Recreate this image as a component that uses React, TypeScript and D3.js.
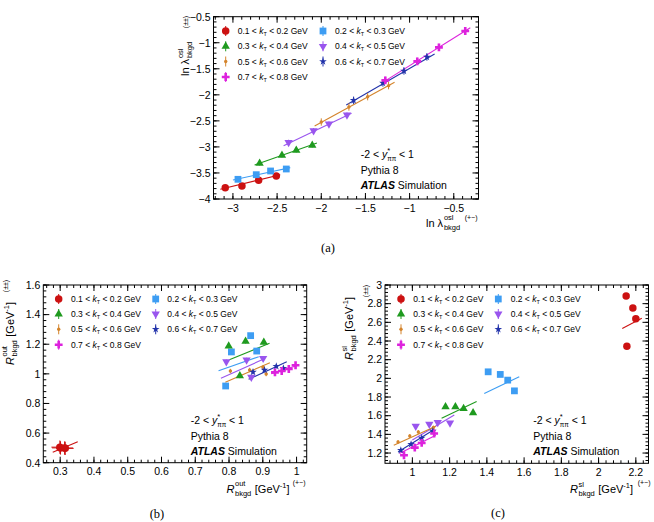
import React from 'react';
import * as d3 from 'd3';

const FONT = '"Liberation Sans", Arial, Helvetica, sans-serif';
const SERIF = '"Liberation Serif", "Times New Roman", serif';

// kT bins, their colours and marker styles
const KT_LO = [0.1, 0.2, 0.3, 0.4, 0.5, 0.6, 0.7];
const KT_HI = [0.2, 0.3, 0.4, 0.5, 0.6, 0.7, 0.8];
const BIN_COLORS = ['#cc1111', '#3d9df3', '#1f9a1f', '#9955ee', '#d4842c', '#2233aa', '#dd22dd'];
const BIN_MARKERS = ['circle', 'square', 'triangle', 'triangleDown', 'dot', 'star', 'cross'];

// (a) ln lambda_osl: opposite-sign (x) vs like-sign (y)
const LAMBDA_PM = [
  [-3.087, -2.898, -2.709, -2.509],
  [-2.943, -2.736, -2.574, -2.396],
  [-2.698, -2.445, -2.283, -2.102],
  [-2.370, -2.087, -1.913, -1.709],
  [-2.0, -1.687, -1.475, -1.238],
  [-1.634, -1.302, -1.064, -0.804],
  [-1.275, -0.913, -0.668, -0.370],
];
const LAMBDA_PP = [
  [-3.782, -3.750, -3.641, -3.558],
  [-3.622, -3.533, -3.462, -3.424],
  [-3.315, -3.162, -3.066, -2.970],
  [-2.912, -2.688, -2.560, -2.387],
  [-2.522, -2.234, -2.036, -1.824],
  [-2.106, -1.773, -1.543, -1.274],
  [-1.722, -1.357, -1.089, -0.775],
];
const LAMBDA_FIT = [
  [-3.143, -3.814, -2.464, -3.533],
  [-3.0, -3.635, -2.351, -3.398],
  [-2.755, -3.347, -2.049, -2.925],
  [-2.426, -2.976, -1.657, -2.355],
  [-2.075, -2.598, -1.170, -1.760],
  [-1.717, -2.195, -0.717, -1.217],
  [-1.321, -1.780, -0.313, -0.711],
];
const LAMBDA_ERR = [0.03, 0.03, 0.04, 0.05, 0.07, 0.07, 0.07];

// (b) R_out
const ROUT_PM = [
  [0.299, 0.301, 0.313, 0.315],
  [0.790, 0.807, 0.864, 0.882],
  [0.799, 0.832, 0.849, 0.903],
  [0.792, 0.852, 0.866, 0.901],
  [0.804, 0.861, 0.901, 0.910],
  [0.871, 0.905, 0.940, 0.961],
  [0.936, 0.956, 0.977, 0.997],
];
const ROUT_PP = [
  [0.505, 0.500, 0.499, 0.497],
  [0.918, 1.148, 1.258, 1.154],
  [1.188, 0.986, 1.220, 1.213],
  [1.082, 1.094, 0.977, 1.105],
  [1.019, 1.026, 1.045, 0.999],
  [1.013, 1.026, 1.051, 1.038],
  [1.010, 1.019, 1.033, 1.058],
];
const ROUT_FIT = [
  [0.278, 0.470, 0.352, 0.542],
  [0.769, 1.021, 0.888, 1.116],
  [0.801, 1.095, 0.920, 1.206],
  [0.776, 0.970, 0.901, 1.098],
  [0.789, 0.943, 0.921, 1.075],
  [0.858, 0.963, 0.971, 1.082],
  [0.925, 1.000, 1.000, 1.055],
];
const ROUT_XERR = [0.025, 0.004, 0.004, 0.004, 0.004, 0.004, 0.004];
const ROUT_YERR = [0.045, 0.015, 0.015, 0.015, 0.015, 0.015, 0.015];

// (c) R_sl
const RSL_PM = [
  [2.148, 2.184, 2.200, 2.152],
  [1.407, 1.472, 1.512, 1.548],
  [1.178, 1.231, 1.275, 1.326],
  [1.018, 1.091, 1.136, 1.202],
  [0.923, 0.986, 1.032, 1.113],
  [0.938, 0.993, 1.050, 1.110],
  [0.955, 1.013, 1.050, 1.117],
];
const RSL_PP = [
  [2.882, 2.753, 2.638, 2.345],
  [2.070, 2.042, 1.981, 1.866],
  [1.694, 1.694, 1.677, 1.630],
  [1.487, 1.509, 1.527, 1.522],
  [1.319, 1.383, 1.426, 1.473],
  [1.230, 1.294, 1.362, 1.437],
  [1.176, 1.258, 1.308, 1.409],
];
const RSL_FIT = [
  [2.127, 2.535, 2.232, 2.643],
  [1.386, 1.838, 1.574, 2.017],
  [1.157, 1.573, 1.345, 1.751],
  [1.0, 1.340, 1.225, 1.608],
  [0.90, 1.283, 1.126, 1.487],
  [0.923, 1.211, 1.117, 1.452],
  [0.93, 1.194, 1.126, 1.390],
];
const RSL_ERR = [0.01, 0.02, 0.02, 0.02, 0.02, 0.02, 0.02];

// Approximate Arial advance widths (em) for laying out composed titles
const CW: Record<string, number> = {
  R: 0.722, l: 0.222, n: 0.556, ' ': 0.278, 'λ': 0.52, o: 0.556, u: 0.556, t: 0.278,
  s: 0.5, b: 0.556, k: 0.5, g: 0.556, d: 0.556, '[': 0.278, G: 0.778, e: 0.556,
  V: 0.667, '-': 0.333, '−': 0.584, '1': 0.556, ']': 0.278,
};
const textW = (s: string, size: number) =>
  s.split('').reduce((a, c) => a + (CW[c] ?? 0.55), 0) * size;

const fmt = (v: number) => {
  const r = Math.round(v * 100) / 100;
  return (r < 0 ? '\u2212' : '') + String(Math.abs(r));
};

const stepTicks = (lo: number, hi: number, step: number) => {
  const out: number[] = [];
  const a = Math.ceil(lo / step - 1e-6);
  const b = Math.floor(hi / step + 1e-6);
  for (let i = a; i <= b; i++) out.push(+(i * step).toFixed(6));
  return out;
};

const SYM: Record<string, string> = {
  circle: d3.symbol(d3.symbolCircle, 44)() as string,
  square: d3.symbol(d3.symbolSquare, 46)() as string,
  triangle: d3.symbol(d3.symbolTriangle, 30)() as string,
  triangleDown: d3.symbol(d3.symbolTriangle, 30)() as string,
  dot: d3.symbol(d3.symbolCircle, 9)() as string,
  star: d3.symbol(d3.symbolStar, 18)() as string,
  cross: d3.symbol(d3.symbolCross, 34)() as string,
};

function Marker({ kind, color, x, y }: { kind: string; color: string; x: number; y: number }) {
  const rot = kind === 'triangleDown' ? ' rotate(180)' : '';
  return <path d={SYM[kind]} fill={color} transform={`translate(${x},${y})${rot}`} />;
}

type TitleSpec = { base: string; italic: boolean; sup: string; sub: string; unit: boolean };

function Title({ x, y, rotate, spec }: { x: number; y: number; rotate: boolean; spec: TitleSpec }) {
  const F = 11;
  const f = 7.5;
  const bw = textW(spec.base, F) + 0.6;
  const sw = Math.max(textW(spec.sup, f), textW(spec.sub, f));
  const ux = bw + sw + 3.5;
  const gw = textW('[GeV', F);
  const mw = textW('-1', f);
  return (
    <g transform={`translate(${x},${y})${rotate ? ' rotate(-90)' : ''}`} fontSize={F}>
      <text x={0} y={0} fontStyle={spec.italic ? 'italic' : 'normal'} style={{ whiteSpace: 'pre' }}>{spec.base}</text>
      <text x={bw} y={-6.5} fontSize={f}>{spec.sup}</text>
      <text x={bw} y={3} fontSize={f}>{spec.sub}</text>
      {spec.unit && (
        <g>
          <text x={ux} y={0}>[GeV</text>
          <text x={ux + gw} y={-5} fontSize={f}>-1</text>
          <text x={ux + gw + mw} y={0}>]</text>
        </g>
      )}
    </g>
  );
}

function LegendLabel({ x, y, i }: { x: number; y: number; i: number }) {
  return (
    <text x={x} y={y} fontSize={8.5} style={{ whiteSpace: 'pre' }}>
      <tspan>{`${KT_LO[i]} < `}</tspan>
      <tspan fontStyle="italic">k</tspan>
      <tspan fontSize={5.5} dy={2}>T</tspan>
      <tspan dy={-2}>{` < ${KT_HI[i]} GeV`}</tspan>
    </text>
  );
}

function InfoBlock({ x, y }: { x: number; y: number }) {
  return (
    <g fontSize={10.5}>
      <text x={x} y={y} style={{ whiteSpace: 'pre' }}>
        <tspan>{'-2 < '}</tspan>
        <tspan fontStyle="italic">y</tspan>
        <tspan fontSize={7.5} dy={-5}>*</tspan>
        <tspan fontSize={6.5} dx={-3} dy={8}>ππ</tspan>
        <tspan dy={-3}>{' < 1'}</tspan>
      </text>
      <text x={x} y={y + 15.5}>Pythia 8</text>
      <text x={x} y={y + 31}>
        <tspan fontWeight="bold" fontStyle="italic">ATLAS</tspan>
        <tspan> Simulation</tspan>
      </text>
    </g>
  );
}

type AxisCfg = { domain: [number, number]; range: [number, number]; major: number; minor: number };

type PanelCfg = {
  id: string;
  x: AxisCfg;
  y: AxisCfg;
  xs: number[][];
  ys: number[][];
  fits: number[][];
  xErr: number[];
  yErr: number[];
  legend: { rows: number[]; m1: number; t1: number; m2: number; t2: number };
  info: [number, number];
  xTitle: { x: number; y: number; spec: TitleSpec; pmX: number; pmY: number };
  yTitle: { x: number; y: number; spec: TitleSpec; pmX: number; pmY: number };
  caption: [number, number];
};

const LEG_ROWS_B = [299, 314, 329.3, 344.7];

const PANELS: PanelCfg[] = [
  {
    id: '(a)',
    x: { domain: [-3.22, -0.22], range: [213.5, 478.5], major: 0.5, minor: 0.1 },
    y: { domain: [-4, -0.5], range: [199, 16.7], major: 0.5, minor: 0.1 },
    xs: LAMBDA_PM, ys: LAMBDA_PP, fits: LAMBDA_FIT,
    xErr: LAMBDA_ERR.map(() => 0), yErr: LAMBDA_ERR,
    legend: { rows: [31, 46.3, 61.5, 77], m1: 225.7, t1: 237.7, m2: 323, t2: 335 },
    info: [360.7, 158],
    xTitle: { x: 426, y: 226.5, spec: { base: 'ln λ', italic: false, sup: 'osl', sub: 'bkgd', unit: false }, pmX: 477.5, pmY: 220 },
    yTitle: { x: 189, y: 76, spec: { base: 'ln λ', italic: false, sup: 'osl', sub: 'bkgd', unit: false }, pmX: 188, pmY: 22 },
    caption: [328, 252],
  },
  {
    id: '(b)',
    x: { domain: [0.25, 1.03], range: [43.3, 306.7], major: 0.1, minor: 0.02 },
    y: { domain: [0.4, 1.6], range: [462.7, 285], major: 0.2, minor: 0.04 },
    xs: ROUT_PM, ys: ROUT_PP, fits: ROUT_FIT,
    xErr: ROUT_XERR, yErr: ROUT_YERR,
    legend: { rows: LEG_ROWS_B, m1: 58.7, t1: 71, m2: 155.7, t2: 167.3 },
    info: [190.7, 424],
    xTitle: { x: 226.5, y: 492.5, spec: { base: 'R', italic: true, sup: 'out', sub: 'bkgd', unit: true }, pmX: 305.5, pmY: 484.5 },
    yTitle: { x: 13.5, y: 365, spec: { base: 'R', italic: true, sup: 'out', sub: 'bkgd', unit: true }, pmX: 8, pmY: 286 },
    caption: [157, 518],
  },
  {
    id: '(c)',
    x: { domain: [0.853, 2.268], range: [385, 648.5], major: 0.2, minor: 0.04 },
    y: { domain: [1.09, 3], range: [463.3, 285], major: 0.2, minor: 0.04 },
    xs: RSL_PM, ys: RSL_PP, fits: RSL_FIT,
    xErr: RSL_ERR.map(() => 0), yErr: RSL_ERR,
    legend: { rows: LEG_ROWS_B, m1: 401, t1: 413.3, m2: 498.3, t2: 510.7 },
    info: [533.3, 424],
    xTitle: { x: 570, y: 493, spec: { base: 'R', italic: true, sup: 'sl', sub: 'bkgd', unit: true }, pmX: 650.5, pmY: 485 },
    yTitle: { x: 353, y: 360, spec: { base: 'R', italic: true, sup: 'sl', sub: 'bkgd', unit: true }, pmX: 367.5, pmY: 291 },
    caption: [498, 517],
  },
];

function Panel({ p }: { p: PanelCfg }) {
  const xs = d3.scaleLinear().domain(p.x.domain).range(p.x.range);
  const ys = d3.scaleLinear().domain(p.y.domain).range(p.y.range);
  const [x0, x1] = p.x.range;
  const [y0, y1] = p.y.range; // y0 bottom, y1 top
  const xMaj = stepTicks(p.x.domain[0], p.x.domain[1], p.x.major);
  const xMin = stepTicks(p.x.domain[0], p.x.domain[1], p.x.minor);
  const yMaj = stepTicks(p.y.domain[0], p.y.domain[1], p.y.major);
  const yMin = stepTicks(p.y.domain[0], p.y.domain[1], p.y.minor);
  const ML = 6;
  const MN = 3;
  const clipId = `clip${p.id.replace(/[()]/g, '')}`;

  return (
    <g>
      <defs>
        <clipPath id={clipId}>
          <rect x={x0} y={y1} width={x1 - x0} height={y0 - y1} />
        </clipPath>
      </defs>

      {/* ticks on all four sides */}
      <g stroke="#000" strokeWidth={1}>
        {xMin.map((v) => (
          <g key={`xm${v}`}>
            <line x1={xs(v)} x2={xs(v)} y1={y0} y2={y0 - MN} />
            <line x1={xs(v)} x2={xs(v)} y1={y1} y2={y1 + MN} />
          </g>
        ))}
        {xMaj.map((v) => (
          <g key={`xM${v}`}>
            <line x1={xs(v)} x2={xs(v)} y1={y0} y2={y0 - ML} />
            <line x1={xs(v)} x2={xs(v)} y1={y1} y2={y1 + ML} />
          </g>
        ))}
        {yMin.map((v) => (
          <g key={`ym${v}`}>
            <line x1={x0} x2={x0 + MN} y1={ys(v)} y2={ys(v)} />
            <line x1={x1} x2={x1 - MN} y1={ys(v)} y2={ys(v)} />
          </g>
        ))}
        {yMaj.map((v) => (
          <g key={`yM${v}`}>
            <line x1={x0} x2={x0 + ML} y1={ys(v)} y2={ys(v)} />
            <line x1={x1} x2={x1 - ML} y1={ys(v)} y2={ys(v)} />
          </g>
        ))}
      </g>
      <rect x={x0} y={y1} width={x1 - x0} height={y0 - y1} fill="none" stroke="#000" strokeWidth={1} />

      {/* tick labels */}
      <g fontSize={10.5} fill="#000">
        {xMaj.map((v) => (
          <text key={`xl${v}`} x={xs(v)} y={y0 + 12.5} textAnchor="middle">{fmt(v)}</text>
        ))}
        {yMaj.map((v) => (
          <text key={`yl${v}`} x={x0 - 3} y={ys(v) + 3.8} textAnchor="end">{fmt(v)}</text>
        ))}
      </g>

      {/* fit lines */}
      <g clipPath={`url(#${clipId})`}>
        {p.fits.map((f, i) => (
          <line key={`f${i}`} x1={xs(f[0])} y1={ys(f[1])} x2={xs(f[2])} y2={ys(f[3])}
            stroke={BIN_COLORS[i]} strokeWidth={1.1} />
        ))}
      </g>

      {/* points with error bars */}
      {p.xs.map((row, i) => (
        <g key={`s${i}`}>
          {row.map((xv, j) => {
            const yv = p.ys[i][j];
            const cx = xs(xv);
            const cy = ys(yv);
            return (
              <g key={j}>
                {p.yErr[i] > 0 && (
                  <line x1={cx} x2={cx} y1={ys(yv - p.yErr[i])} y2={ys(yv + p.yErr[i])}
                    stroke={BIN_COLORS[i]} strokeWidth={1} />
                )}
                {p.xErr[i] > 0 && (
                  <line x1={xs(xv - p.xErr[i])} x2={xs(xv + p.xErr[i])} y1={cy} y2={cy}
                    stroke={BIN_COLORS[i]} strokeWidth={1} />
                )}
                <Marker kind={BIN_MARKERS[i]} color={BIN_COLORS[i]} x={cx} y={cy} />
              </g>
            );
          })}
        </g>
      ))}

      {/* legend */}
      {KT_LO.map((_, i) => {
        const row = Math.floor(i / 2);
        const col = i % 2;
        const mx = col === 0 ? p.legend.m1 : p.legend.m2;
        const tx = col === 0 ? p.legend.t1 : p.legend.t2;
        const cy = p.legend.rows[row];
        return (
          <g key={`lg${i}`}>
            <line x1={mx} x2={mx} y1={cy - 5} y2={cy + 5} stroke={BIN_COLORS[i]} strokeWidth={1} />
            <Marker kind={BIN_MARKERS[i]} color={BIN_COLORS[i]} x={mx} y={cy} />
            <LegendLabel x={tx} y={cy + 3} i={i} />
          </g>
        );
      })}

      <InfoBlock x={p.info[0]} y={p.info[1]} />

      {/* axis titles */}
      <Title x={p.xTitle.x} y={p.xTitle.y} rotate={false} spec={p.xTitle.spec} />
      <text x={p.xTitle.pmX} y={p.xTitle.pmY} fontSize={7} textAnchor="end">(+−)</text>
      <Title x={p.yTitle.x} y={p.yTitle.y} rotate={true} spec={p.yTitle.spec} />
      <text transform={`translate(${p.yTitle.pmX},${p.yTitle.pmY}) rotate(-90)`} fontSize={7} textAnchor="middle">(±±)</text>

      <text x={p.caption[0]} y={p.caption[1]} fontFamily={SERIF} fontSize={12.5} textAnchor="middle">{p.id}</text>
    </g>
  );
}

export default function App() {
  return (
    <svg width={654} height={522} viewBox="0 0 654 522"
      style={{ position: 'absolute', left: 0, top: 0, background: '#fff' }} fontFamily={FONT}>
      <rect width={654} height={522} fill="#fff" />
      {PANELS.map((p) => (
        <Panel key={p.id} p={p} />
      ))}
    </svg>
  );
}
